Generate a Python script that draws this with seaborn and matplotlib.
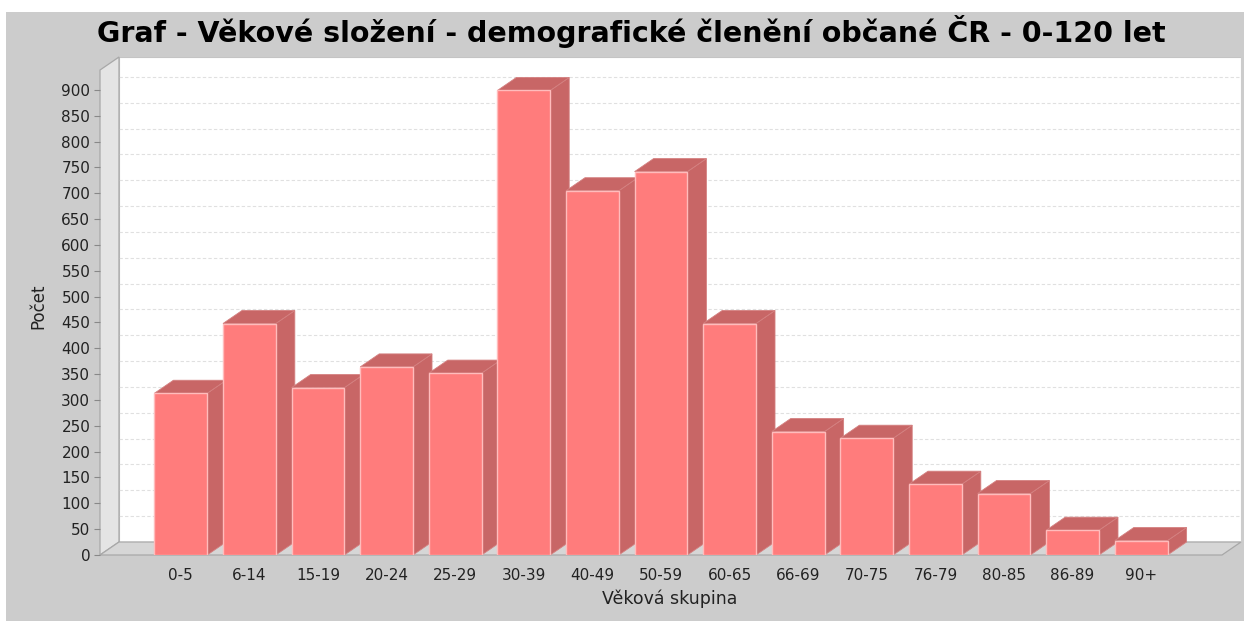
import numpy as np
import seaborn as sns
import matplotlib.pyplot as plt
from matplotlib.patches import Polygon, Rectangle

# data
vekove_skupiny = ['0-5', '6-14', '15-19', '20-24', '25-29', '30-39', '40-49', '50-59',
                  '60-65', '66-69', '70-75', '76-79', '80-85', '86-89', '90+']
pocet = [313, 448, 324, 364, 352, 899, 705, 742, 448, 239, 226, 137, 119, 48, 28]
y_ticks = list(range(0, 901, 50))

nazev = 'Graf - Věkové složení - demografické členění občané ČR - 0-120 let'
popis_x = 'Věková skupina'
popis_y = 'Počet'

W, H = 1244, 621
fig = plt.figure(figsize=(W / 100, H / 100), dpi=100, facecolor='white')
# gray chart background (white strip at top / left like the original)
fig.patches.append(Rectangle((6 / W, 0), 1 - 6 / W, (H - 12) / H, transform=fig.transFigure,
                             facecolor='#cccccc', edgecolor='none', zorder=-10))

ax = fig.add_axes([100 / W, 66 / H, 1141 / W, 498 / H])
ax.set_facecolor('none')

sns.barplot(x=vekove_skupiny, y=pocet, color='#ff7c7c', saturation=1, width=0.77,
            edgecolor='#ffbcbc', linewidth=1, ax=ax)
bars = list(ax.patches)

# 3d look: depth offset in data units
xl, xr = -1.178, 15.455
ytop = 963.8
dx, dy = 0.277, 25.2

# back wall, left wall, floor
ax.add_patch(Rectangle((xl + dx, dy), xr - xl - dx, ytop - dy, facecolor='white',
                       edgecolor='#c4c4c4', lw=0.8, zorder=1))
ax.add_patch(Polygon([(xl, 0), (xl + dx, dy), (xl + dx, ytop), (xl, ytop - dy)],
                     closed=True, facecolor='#e4e4e4', edgecolor='#a8a8a8', lw=0.9,
                     zorder=1.5, clip_on=False))
ax.add_patch(Polygon([(xl, 0), (xr - dx, 0), (xr, dy), (xl + dx, dy)], closed=True,
                     facecolor='#d6d6d6', edgecolor='#a8a8a8', lw=0.9, zorder=1.5,
                     clip_on=False))

# gridlines on back wall
for v in y_ticks[1:]:
    ax.plot([xl + dx, xr], [v + dy, v + dy], color='#e0e0e0', lw=0.8,
            ls=(0, (3, 2)), zorder=1.2)

# side and top faces of bars
for i, p in enumerate(bars):
    x0 = p.get_x()
    x1 = x0 + p.get_width()
    h = p.get_height()
    side = Polygon([(x1, 0), (x1 + dx, dy), (x1 + dx, h + dy), (x1, h)], closed=True,
                   facecolor='#c86666', edgecolor='#d48080', lw=0.6, zorder=3 + 2 * i)
    top = Polygon([(x0, h), (x0 + dx, h + dy), (x1 + dx, h + dy), (x1, h)], closed=True,
                  facecolor='#c86666', edgecolor='#d48080', lw=0.6, zorder=3 + 2 * i)
    ax.add_patch(side)
    ax.add_patch(top)
    p.set_zorder(4 + 2 * i)

ax.set_xlim(xl, xr)
ax.set_ylim(0, ytop)
ax.set_yticks(y_ticks)
for s in ax.spines.values():
    s.set_visible(False)
ax.tick_params(axis='y', length=4, width=0.8, color='#888888', pad=3,
               labelsize=11, labelcolor='#222222')
ax.tick_params(axis='x', length=0, pad=9, labelsize=11, labelcolor='#222222')
ax.set_xlabel('')
ax.set_ylabel('')

fig.text(631 / W, 1 - 31 / H, nazev, ha='center', va='center', fontsize=20.5,
         fontweight='bold', color='black')
fig.text(670 / W, 1 - 599 / H, popis_x, ha='center', va='center', fontsize=12.5,
         color='#222222')
fig.text(38 / W, 1 - 306 / H, popis_y, ha='center', va='center', fontsize=12,
         rotation=90, color='#222222')

fig.savefig('out.png', dpi=100, facecolor=fig.get_facecolor())
